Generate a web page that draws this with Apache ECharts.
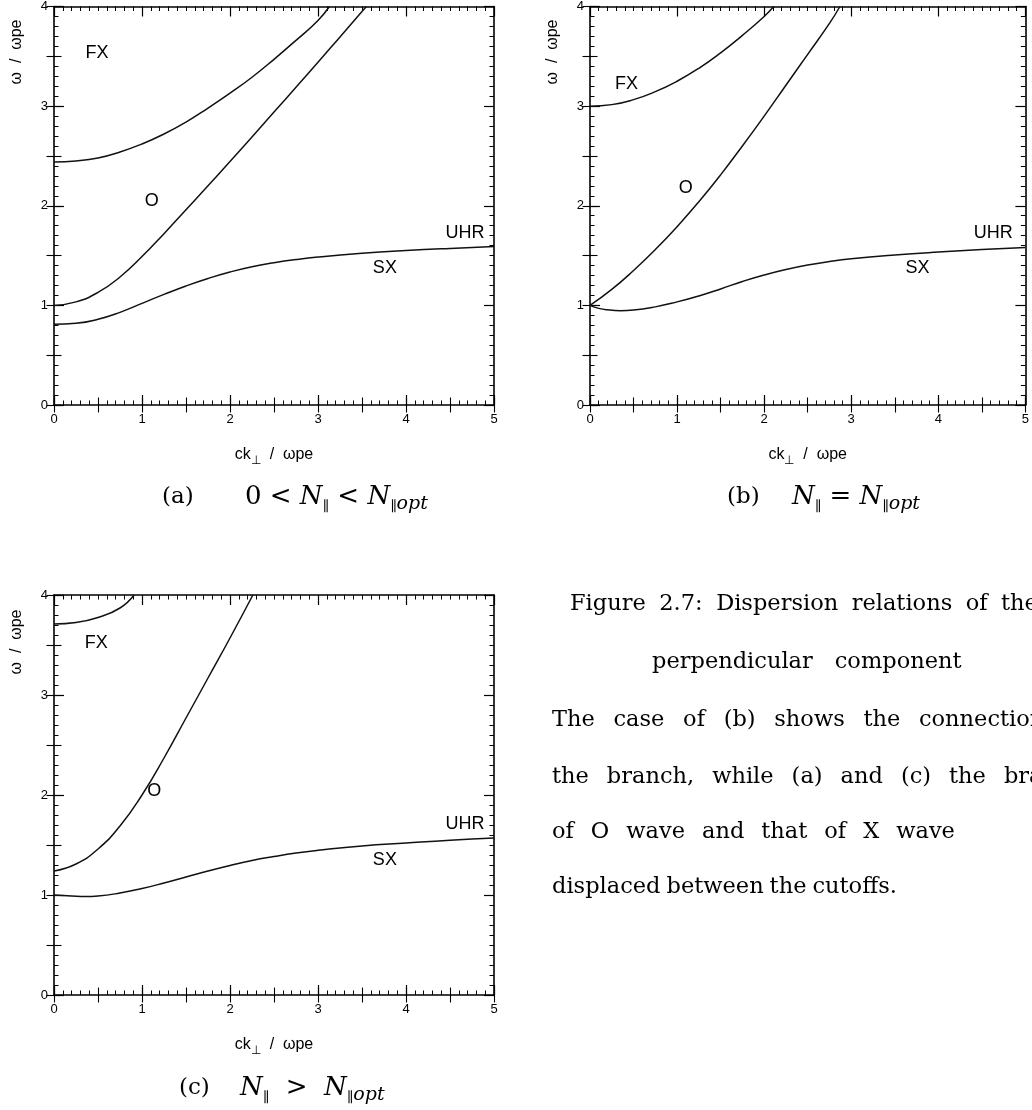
<!DOCTYPE html>
<html>
<head>
<meta charset="utf-8">
<script src="https://cdn.jsdelivr.net/npm/echarts@6/dist/echarts.min.js"></script>
<style>
html,body{margin:0;padding:0;background:#fff;}
#chart{width:1032px;height:1110px;}
</style>
</head>
<body>
<div id="chart"></div>
<script>
// ---------- data ----------
const xTickLabels = ['0', '1', '2', '3', '4', '5'];
const yTickLabels = ['0', '1', '2', '3', '4'];

// panel (a)  0 < N|| < N||opt
const aFX_k = [0, 0.25, 0.5, 0.75, 1.0, 1.25, 1.5, 1.75, 2.0, 2.25, 2.5, 2.75, 3.0, 3.13];
const aFX_w = [2.44, 2.45, 2.48, 2.54, 2.62, 2.72, 2.84, 2.98, 3.13, 3.29, 3.47, 3.66, 3.86, 4.0];
const aO_k  = [0, 0.25, 0.5, 0.75, 1.0, 1.25, 1.5, 1.75, 2.0, 2.25, 2.5, 2.75, 3.0, 3.25, 3.5, 3.55];
const aO_w  = [1.0, 1.035, 1.13, 1.285, 1.49, 1.72, 1.96, 2.2, 2.445, 2.69, 2.94, 3.19, 3.44, 3.695, 3.95, 4.0];
const aSX_k = [0, 0.25, 0.5, 0.75, 1.0, 1.25, 1.5, 1.75, 2.0, 2.25, 2.5, 2.75, 3.0, 3.5, 4.0, 4.5, 5.0];
const aSX_w = [0.81, 0.82, 0.86, 0.93, 1.02, 1.11, 1.195, 1.27, 1.335, 1.388, 1.428, 1.46, 1.485, 1.522, 1.55, 1.572, 1.59];

// panel (b)  N|| = N||opt
const bFX_k = [0, 0.25, 0.5, 0.75, 1.0, 1.25, 1.5, 1.75, 2.0, 2.11];
const bFX_w = [3.0, 3.015, 3.065, 3.145, 3.25, 3.38, 3.535, 3.71, 3.9, 4.0];
const bO_k  = [0, 0.25, 0.5, 0.75, 1.0, 1.25, 1.5, 1.75, 2.0, 2.25, 2.5, 2.75, 2.87];
const bO_w  = [1.0, 1.16, 1.35, 1.56, 1.79, 2.04, 2.31, 2.60, 2.90, 3.21, 3.52, 3.83, 4.0];
const bSX_k = [0, 0.1, 0.2, 0.35, 0.5, 0.75, 1.0, 1.25, 1.5, 1.75, 2.0, 2.25, 2.5, 2.75, 3.0, 3.5, 4.0, 4.5, 5.0];
const bSX_w = [1.0, 0.97, 0.955, 0.947, 0.953, 0.985, 1.035, 1.095, 1.165, 1.24, 1.305, 1.36, 1.405, 1.44, 1.467, 1.505, 1.535, 1.56, 1.58];

// panel (c)  N|| > N||opt
const cFX_k = [0, 0.25, 0.5, 0.75, 0.91];
const cFX_w = [3.71, 3.725, 3.775, 3.87, 4.0];
const cO_k  = [0, 0.25, 0.5, 0.75, 1.0, 1.25, 1.5, 1.75, 2.0, 2.26];
const cO_w  = [1.24, 1.31, 1.46, 1.69, 2.0, 2.37, 2.77, 3.17, 3.57, 4.0];
const cSX_k = [0, 0.2, 0.36, 0.5, 0.75, 1.0, 1.25, 1.5, 1.75, 2.0, 2.25, 2.5, 2.75, 3.0, 3.5, 4.0, 4.5, 5.0];
const cSX_w = [1.0, 0.99, 0.985, 0.99, 1.02, 1.065, 1.12, 1.18, 1.24, 1.295, 1.345, 1.385, 1.42, 1.447, 1.49, 1.52, 1.548, 1.57];

// branch labels (data coordinates)
const labelNames = ['FX', 'O', 'UHR', 'SX'];
const aLabel_k = [0.49, 1.11, 4.67, 3.76];
const aLabel_w = [3.53, 2.05, 1.73, 1.37];
const bLabel_k = [0.42, 1.10, 4.63, 3.76];
const bLabel_w = [3.22, 2.18, 1.73, 1.37];
const cLabel_k = [0.48, 1.14, 4.67, 3.76];
const cLabel_w = [3.52, 2.04, 1.71, 1.35];

// ---------- layout ----------
const grids = [
  {left: 54, top: 5, width: 440, height: 400},
  {left: 590, top: 5, width: 440, height: 400},
  {left: 54, top: 595, width: 440, height: 400}
];
const SANS = 'Liberation Sans, Arial, sans-serif';
const SERIF = 'DejaVu Serif, serif';
const BLACK = '#000';

function pairs(ks, ws) { return ks.map((k, i) => [k, ws[i]]); }

const xAxes = [], yAxes = [];
grids.forEach((g, gi) => {
  ['bottom', 'top'].forEach(pos => {
    const main = pos === 'bottom';
    xAxes.push({
      gridIndex: gi, type: 'value', min: 0, max: 5, interval: 1, position: pos, offset: 0,
      axisLine: {show: true, onZero: false, lineStyle: {color: BLACK, width: 1.6}},
      axisTick: {show: true, inside: true, length: 10, lineStyle: {color: BLACK, width: 1.2}},
      minorTick: {show: true, splitNumber: 10, length: 4.5, lineStyle: {color: BLACK, width: 1}},
      splitLine: {show: false}, minorSplitLine: {show: false},
      axisLabel: main ? {show: true, margin: 8, fontSize: 13, color: BLACK, fontFamily: SANS,
        formatter: v => xTickLabels[Math.round(v)]} : {show: false},
      name: main ? '{n|ck}{s|⊥}{n|  /  ωpe}' : '',
      nameLocation: 'middle', nameGap: 38,
      nameTextStyle: {rich: {
        n: {fontSize: 16, fontFamily: SANS, color: BLACK, lineHeight: 24},
        s: {fontSize: 12, fontFamily: SANS, color: BLACK, lineHeight: 24, verticalAlign: 'bottom'}
      }}
    });
    xAxes.push({
      gridIndex: gi, type: 'value', min: 0, max: 5, interval: 0.5, position: pos, offset: 0,
      axisLine: {show: false}, axisLabel: {show: false}, splitLine: {show: false},
      axisTick: {show: true, inside: true, length: 7.5, lineStyle: {color: BLACK, width: 1.1}}
    });
  });
  ['left', 'right'].forEach(pos => {
    const main = pos === 'left';
    yAxes.push({
      gridIndex: gi, type: 'value', min: 0, max: 4, interval: 1, position: pos, offset: 0,
      axisLine: {show: true, onZero: false, lineStyle: {color: BLACK, width: 1.6}},
      axisTick: {show: true, inside: true, length: 10, lineStyle: {color: BLACK, width: 1.2}},
      minorTick: {show: true, splitNumber: 10, length: 4.5, lineStyle: {color: BLACK, width: 1}},
      splitLine: {show: false}, minorSplitLine: {show: false},
      axisLabel: main ? {show: true, margin: 6, fontSize: 13, color: BLACK, fontFamily: SANS,
        formatter: v => yTickLabels[Math.round(v)]} : {show: false}
    });
    yAxes.push({
      gridIndex: gi, type: 'value', min: 0, max: 4, interval: 0.5, position: pos, offset: 0,
      axisLine: {show: false}, axisLabel: {show: false}, splitLine: {show: false},
      axisTick: {show: true, inside: true, length: 7.5, lineStyle: {color: BLACK, width: 1.1}}
    });
  });
});

const panels = [
  {curves: [[aFX_k, aFX_w], [aO_k, aO_w], [aSX_k, aSX_w]], lk: aLabel_k, lw: aLabel_w},
  {curves: [[bFX_k, bFX_w], [bO_k, bO_w], [bSX_k, bSX_w]], lk: bLabel_k, lw: bLabel_w},
  {curves: [[cFX_k, cFX_w], [cO_k, cO_w], [cSX_k, cSX_w]], lk: cLabel_k, lw: cLabel_w}
];

const series = [];
panels.forEach((p, gi) => {
  p.curves.forEach(c => {
    series.push({
      type: 'line', xAxisIndex: gi * 4, yAxisIndex: gi * 4,
      data: pairs(c[0], c[1]), showSymbol: false, symbol: 'none',
      smooth: 0.5, clip: true,
      lineStyle: {color: '#111', width: 1.5}
    });
  });
  series.push({
    type: 'scatter', xAxisIndex: gi * 4, yAxisIndex: gi * 4, symbolSize: 0,
    data: labelNames.map((n, i) => ({name: n, value: [p.lk[i], p.lw[i]]})),
    label: {show: true, position: 'inside', formatter: d => d.name,
      fontSize: 18, fontFamily: SANS, color: BLACK, opacity: 1}
  });
});

// ---------- texts ----------
const capRich = {
  m: {fontSize: 26, fontFamily: SERIF, color: BLACK, lineHeight: 34},
  i: {fontSize: 26, fontFamily: SERIF, fontStyle: 'italic', color: BLACK, lineHeight: 34},
  s: {fontSize: 14, fontFamily: SERIF, color: BLACK, lineHeight: 34, verticalAlign: 'bottom'},
  si: {fontSize: 19, fontFamily: SERIF, fontStyle: 'italic', color: BLACK, lineHeight: 34, verticalAlign: 'bottom'}
};
function txt(x, y, text, opt) {
  return Object.assign({type: 'text', x: x, y: y, silent: true,
    style: Object.assign({text: text, fill: BLACK, verticalAlign: 'middle', align: 'left'}, opt || {})});
}
// paragraph lines laid out word by word (justified like the source document)
const PFONT = '22.5px ' + SERIF;
const measureCtx = document.createElement('canvas').getContext('2d');
measureCtx.font = PFONT;
function wordLine(str, x0, y, gap) {
  const out = [];
  let x = x0;
  str.split(' ').forEach(w => {
    out.push(txt(x, y, w, {font: PFONT}));
    x += measureCtx.measureText(w).width + gap;
  });
  return out;
}
const paraLines = [
  ['Figure 2.7: Dispersion relations of the', 570, 604, 13.5],
  ['perpendicular component', 652, 662, 22],
  ['The case of (b) shows the connection', 552, 720, 18.7],
  ['the branch, while (a) and (c) the branch', 552, 777, 18],
  ['of O wave and that of X wave', 552, 832, 17],
  ['displaced between the cutoffs.', 552, 887, 6]
];

const graphic = [
  {type: 'text', x: 17, y: 52, rotation: Math.PI / 2, silent: true,
    style: {text: 'ω  /  ωpe', font: '16px ' + SANS, fill: BLACK, align: 'center', verticalAlign: 'middle'}},
  {type: 'text', x: 553, y: 52, rotation: Math.PI / 2, silent: true,
    style: {text: 'ω  /  ωpe', font: '16px ' + SANS, fill: BLACK, align: 'center', verticalAlign: 'middle'}},
  {type: 'text', x: 17, y: 642, rotation: Math.PI / 2, silent: true,
    style: {text: 'ω  /  ωpe', font: '16px ' + SANS, fill: BLACK, align: 'center', verticalAlign: 'middle'}},
  txt(162, 497, '(a)', {font: '23px ' + SERIF}),
  txt(245, 497, '{m|0 < }{i|N}{s|∥}{m| < }{i|N}{s|∥}{si|opt}', {rich: capRich}),
  txt(727, 497, '(b)', {font: '23px ' + SERIF}),
  txt(792, 497, '{i|N}{s|∥}{m| = }{i|N}{s|∥}{si|opt}', {rich: capRich}),
  txt(179, 1088, '(c)', {font: '23px ' + SERIF}),
  txt(240, 1088, '{i|N}{s|∥}{m|  >  }{i|N}{s|∥}{si|opt}', {rich: capRich})
];
paraLines.forEach(l => { wordLine(l[0], l[1], l[2], l[3]).forEach(g => graphic.push(g)); });

const chart = echarts.init(document.getElementById('chart'), null, {renderer: 'canvas'});
chart.setOption({
  animation: false,
  backgroundColor: '#fff',
  grid: grids,
  xAxis: xAxes,
  yAxis: yAxes,
  series: series,
  graphic: graphic
});
</script>
</body>
</html>
